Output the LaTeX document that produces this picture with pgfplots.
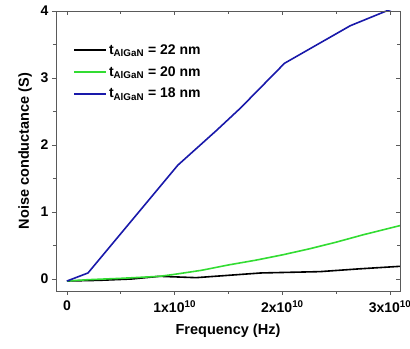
\documentclass[border=0pt]{standalone}
\usepackage{fontspec}
\setmainfont{Liberation Sans}
\usepackage{pgfplots}
\pgfplotsset{compat=1.18}
\usetikzlibrary{calc}
\definecolor{cgreen}{RGB}{50,220,50}
\definecolor{cblue}{RGB}{25,25,170}
\definecolor{caxis}{RGB}{90,90,90}
\begin{document}
\begin{tikzpicture}
\begin{axis}[
  name=ax,
  scale only axis,
  width=344pt, height=280pt,
  xmin=-0.102, xmax=3.092,
  ymin=-0.179, ymax=4,
  xtick={0,1,2,3},
  xticklabels={0,{1x10\textsuperscript{10}},{2x10\textsuperscript{10}},{3x10\textsuperscript{10}}},
  minor xtick={0.5,1.5,2.5},
  ytick={0,1,2,3,4},
  minor ytick={0.5,1.5,2.5,3.5},
  xtick pos=bottom, ytick pos=left,
  tick align=outside,
  major tick length=4pt, minor tick length=3pt,
  every tick/.style={caxis, line width=0.8pt},
  axis line style={caxis, line width=0.8pt},
  /pgf/number format/assume math mode=true,
  tick label style={font=\fontsize{14}{16}\selectfont\bfseries},
  xticklabel style={yshift=-2pt},
  label style={font=\fontsize{14.5}{17}\selectfont\bfseries},
  xlabel={Frequency (Hz)},
  ylabel={Noise conductance (S)},
  xlabel style={yshift=-4pt},
  ylabel style={yshift=2pt},
  legend style={draw=none, fill=none, at={(rel axis cs:0.05,0.888)}, anchor=north west,
    font=\fontsize{14}{16}\selectfont\bfseries, row sep=6.5pt, inner sep=0pt},
  legend cell align=left,
  legend image code/.code={\draw[#1, line width=1.6pt] (0pt,0pt) -- (32pt,0pt);},
]
\addplot[black, line width=1.6pt] coordinates {
 (0,-0.03) (0.3,-0.02) (0.6,0.0) (0.86,0.04) (1.2,0.02) (1.8,0.09) (2.35,0.11) (2.7,0.15) (3.1,0.19)};
\addlegendentry{t\textsubscript{AlGaN} = 22 nm}
\addplot[cgreen, line width=1.6pt] coordinates {
 (0,-0.03) (0.2,-0.01) (0.5,0.01) (0.86,0.04) (1.0,0.07) (1.25,0.13) (1.5,0.21) (1.75,0.28) (2.0,0.36) (2.25,0.45) (2.5,0.55) (2.75,0.66) (3.0,0.76) (3.1,0.80)};
\addlegendentry{t\textsubscript{AlGaN} = 20 nm}
\addplot[cblue, line width=1.6pt] coordinates {
 (0,-0.03) (0.195,0.09) (1.03,1.70) (1.39,2.22) (1.61,2.55) (2.02,3.22) (2.63,3.78) (2.95,3.99) (3.1,4.08)};
\addlegendentry{t\textsubscript{AlGaN} = 18 nm}
\end{axis}
\begin{axis}[
  scale only axis,
  width=344pt, height=280pt,
  xmin=-0.102, xmax=3.092,
  ymin=-0.179, ymax=4,
  xtick={0,1,2,3}, minor xtick={0.5,1.5,2.5},
  ytick={0,1,2,3,4}, minor ytick={0.5,1.5,2.5,3.5},
  xtick pos=top, ytick pos=right,
  tick align=inside,
  xticklabels={}, yticklabels={},
  major tick length=4pt, minor tick length=3pt,
  every tick/.style={caxis, line width=0.8pt},
  axis line style={caxis, line width=0.8pt},
]
\end{axis}
\pgfresetboundingbox
\useasboundingbox ($(ax.south west)+(-56pt,-58pt)$) rectangle ($(ax.north east)+(10pt,11pt)$);
\end{tikzpicture}
\end{document}
